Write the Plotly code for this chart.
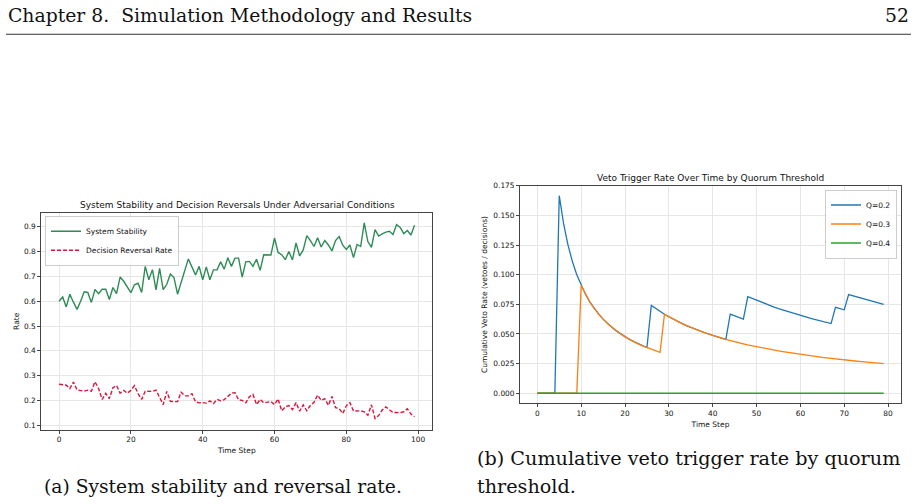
import plotly.graph_objects as go

# ---------------- data ----------------
steps_a = list(range(100))
stability = [0.600, 0.617, 0.577, 0.628, 0.596, 0.567, 0.600, 0.638, 0.635, 0.595,
             0.647, 0.630, 0.648, 0.648, 0.607, 0.655, 0.630, 0.697, 0.680, 0.658,
             0.634, 0.666, 0.672, 0.635, 0.740, 0.686, 0.727, 0.645, 0.732, 0.646,
             0.668, 0.709, 0.695, 0.628, 0.676, 0.726, 0.770, 0.738, 0.705, 0.740,
             0.686, 0.738, 0.686, 0.726, 0.726, 0.758, 0.729, 0.775, 0.740, 0.773,
             0.773, 0.697, 0.758, 0.760, 0.740, 0.769, 0.724, 0.787, 0.787, 0.786,
             0.854, 0.796, 0.787, 0.767, 0.800, 0.766, 0.834, 0.782, 0.806, 0.864,
             0.844, 0.820, 0.855, 0.818, 0.844, 0.826, 0.802, 0.844, 0.860, 0.825,
             0.808, 0.826, 0.775, 0.828, 0.820, 0.915, 0.840, 0.816, 0.888, 0.862,
             0.871, 0.878, 0.881, 0.868, 0.908, 0.897, 0.872, 0.884, 0.866, 0.905]
reversal = [0.266, 0.264, 0.262, 0.248, 0.275, 0.243, 0.242, 0.238, 0.242, 0.238,
            0.276, 0.249, 0.205, 0.229, 0.208, 0.252, 0.261, 0.230, 0.241, 0.230,
            0.241, 0.260, 0.228, 0.205, 0.238, 0.236, 0.237, 0.242, 0.212, 0.184,
            0.237, 0.197, 0.196, 0.196, 0.234, 0.219, 0.219, 0.228, 0.195, 0.191,
            0.192, 0.190, 0.199, 0.188, 0.205, 0.199, 0.204, 0.216, 0.230, 0.232,
            0.203, 0.201, 0.191, 0.216, 0.225, 0.184, 0.205, 0.191, 0.192, 0.196,
            0.184, 0.207, 0.159, 0.175, 0.180, 0.164, 0.192, 0.158, 0.183, 0.159,
            0.181, 0.193, 0.222, 0.201, 0.208, 0.181, 0.217, 0.172, 0.168, 0.148,
            0.179, 0.192, 0.158, 0.159, 0.159, 0.155, 0.141, 0.183, 0.128, 0.140,
            0.162, 0.175, 0.163, 0.152, 0.152, 0.151, 0.155, 0.167, 0.146, 0.135]

steps_b = list(range(80))
veto_q02 = [0, 0, 0, 0, 0, 0.1667, 0.1429, 0.1250, 0.1111, 0.1000,
            0.0909, 0.0833, 0.0769, 0.0714, 0.0667, 0.0625, 0.0588, 0.0556, 0.0526, 0.0500,
            0.0476, 0.0455, 0.0435, 0.0417, 0.0400, 0.0385, 0.0741, 0.0714, 0.0690, 0.0667,
            0.0645, 0.0625, 0.0606, 0.0588, 0.0571, 0.0556, 0.0541, 0.0526, 0.0513, 0.0500,
            0.0488, 0.0476, 0.0465, 0.0455, 0.0667, 0.0652, 0.0638, 0.0625, 0.0816, 0.0800,
            0.0784, 0.0769, 0.0755, 0.0741, 0.0727, 0.0714, 0.0702, 0.0690, 0.0678, 0.0667,
            0.0656, 0.0645, 0.0635, 0.0625, 0.0615, 0.0606, 0.0597, 0.0588, 0.0725, 0.0714,
            0.0704, 0.0833, 0.0822, 0.0811, 0.0800, 0.0789, 0.0779, 0.0769, 0.0759, 0.0750]
veto_q03 = [0, 0, 0, 0, 0, 0, 0, 0, 0, 0,
            0.0909, 0.0833, 0.0769, 0.0714, 0.0667, 0.0625, 0.0588, 0.0556, 0.0526, 0.0500,
            0.0476, 0.0455, 0.0435, 0.0417, 0.0400, 0.0385, 0.0370, 0.0357, 0.0345, 0.0667,
            0.0645, 0.0625, 0.0606, 0.0588, 0.0571, 0.0556, 0.0541, 0.0526, 0.0513, 0.0500,
            0.0488, 0.0476, 0.0465, 0.0455, 0.0444, 0.0435, 0.0426, 0.0417, 0.0408, 0.0400,
            0.0392, 0.0385, 0.0377, 0.0370, 0.0364, 0.0357, 0.0351, 0.0345, 0.0339, 0.0333,
            0.0328, 0.0323, 0.0317, 0.0313, 0.0308, 0.0303, 0.0299, 0.0294, 0.0290, 0.0286,
            0.0282, 0.0278, 0.0274, 0.0270, 0.0267, 0.0263, 0.0260, 0.0256, 0.0253, 0.0250]
veto_q04 = [0] * 80

ticks_a_x = [0, 20, 40, 60, 80, 100]
ticks_a_y = [0.1, 0.2, 0.3, 0.4, 0.5, 0.6, 0.7, 0.8, 0.9]
ticks_b_x = [0, 10, 20, 30, 40, 50, 60, 70, 80]
ticks_b_y = [0.0, 0.025, 0.05, 0.075, 0.1, 0.125, 0.15, 0.175]

# ---------------- figure ----------------
W, H = 915, 504
def px(x):
    return x / W
def py(y):
    return 1 - y / H

SANS = "DejaVu Sans"
SERIF = "DejaVu Serif"
TXT = "#111111"
GRID = "#e6e6e6"
SPINE = "#444444"

fig = go.Figure()
fig.add_trace(go.Scatter(x=steps_a, y=stability, mode="lines", name="System Stability",
                         line=dict(color="#2E8B57", width=1.4), xaxis="x", yaxis="y",
                         legend="legend"))
fig.add_trace(go.Scatter(x=steps_a, y=reversal, mode="lines", name="Decision Reversal Rate",
                         line=dict(color="#DC143C", width=1.4, dash="4px,2px"),
                         xaxis="x", yaxis="y", legend="legend"))
fig.add_trace(go.Scatter(x=steps_b, y=veto_q02, mode="lines", name="Q=0.2",
                         line=dict(color="#1f77b4", width=1.3), xaxis="x2", yaxis="y2",
                         legend="legend2"))
fig.add_trace(go.Scatter(x=steps_b, y=veto_q03, mode="lines", name="Q=0.3",
                         line=dict(color="#ff7f0e", width=1.3), xaxis="x2", yaxis="y2",
                         legend="legend2"))
fig.add_trace(go.Scatter(x=steps_b, y=veto_q04, mode="lines", name="Q=0.4",
                         line=dict(color="#2ca02c", width=1.3), xaxis="x2", yaxis="y2",
                         legend="legend2"))

axis_common = dict(showline=True, linecolor=SPINE, linewidth=1, mirror=True,
                   showgrid=True, gridcolor=GRID, gridwidth=1, zeroline=False,
                   ticks="outside", ticklen=3, tickcolor=SPINE, tickwidth=1,
                   tickfont=dict(family=SANS, size=7.4, color=TXT))
title_font = dict(family=SANS, size=7.5, color=TXT)

fig.update_layout(
    width=W, height=H, margin=dict(l=0, r=0, t=0, b=0),
    paper_bgcolor="white", plot_bgcolor="white",
    xaxis=dict(domain=[px(41.3), px(432.3)], range=[-4.95, 103.95], tickvals=ticks_a_x,
               anchor="y", title=dict(text="Time Step", font=title_font, standoff=4),
               **axis_common),
    yaxis=dict(domain=[py(429), py(210.7)], range=[0.0834, 0.9546], tickvals=ticks_a_y,
               tickformat=".1f", anchor="x",
               title=dict(text="Rate", font=title_font, standoff=3),
               **axis_common),
    xaxis2=dict(domain=[px(520), px(901)], range=[-3.95, 82.95], tickvals=ticks_b_x,
                anchor="y2", title=dict(text="Time Step", font=title_font, standoff=4),
                **axis_common),
    yaxis2=dict(domain=[py(402.3), py(183.3)], range=[-0.00833, 0.175], tickvals=ticks_b_y,
                tickformat=".3f", anchor="x2",
                title=dict(text="Cumulative Veto Rate (vetoes / decisions)",
                           font=title_font, standoff=4),
                **axis_common),
    legend=dict(x=px(45), y=py(213.5), xanchor="left", yanchor="top",
                bgcolor="rgba(255,255,255,0.85)", bordercolor="#cccccc", borderwidth=1,
                font=dict(family=SANS, size=7.5, color=TXT), itemwidth=30,
                tracegroupgap=0),
    legend2=dict(x=px(897), y=py(187), xanchor="right", yanchor="top",
                 bgcolor="rgba(255,255,255,0.85)", bordercolor="#cccccc", borderwidth=1,
                 font=dict(family=SANS, size=7.5, color=TXT), itemwidth=30,
                 tracegroupgap=0),
    showlegend=True,
)

annotations = [
    dict(text="System Stability and Decision Reversals Under Adversarial Conditions",
         x=px(237), y=py(202.5), font=dict(family=SANS, size=9, color=TXT)),
    dict(text="Veto Trigger Rate Over Time by Quorum Threshold",
         x=px(710.5), y=py(175), font=dict(family=SANS, size=9, color=TXT)),
    dict(text="Chapter 8.  Simulation Methodology and Results", x=px(6), y=py(12),
         xanchor="left", font=dict(family=SERIF, size=18.8, color="#111111")),
    dict(text="52", x=px(911), y=py(12), xanchor="right",
         font=dict(family=SERIF, size=18.8, color="#111111")),
    dict(text="(a) System stability and reversal rate.", x=px(41.5), y=py(486),
         xanchor="left", font=dict(family=SERIF, size=18.7, color="#111111")),
    dict(text="(b) Cumulative veto trigger rate by quorum", x=px(475), y=py(458),
         xanchor="left", font=dict(family=SERIF, size=19.2, color="#111111")),
    dict(text="threshold.", x=px(475), y=py(486), xanchor="left",
         font=dict(family=SERIF, size=19.2, color="#111111")),
]
for a in annotations:
    a.update(xref="paper", yref="paper", showarrow=False, yanchor="middle")
    a.setdefault("xanchor", "center")
fig.update_layout(annotations=annotations)

fig.add_shape(type="line", xref="paper", yref="paper", x0=px(6), x1=px(911),
              y0=py(30.5), y1=py(30.5), line=dict(color="#333333", width=1))

fig.write_html("out.html")
